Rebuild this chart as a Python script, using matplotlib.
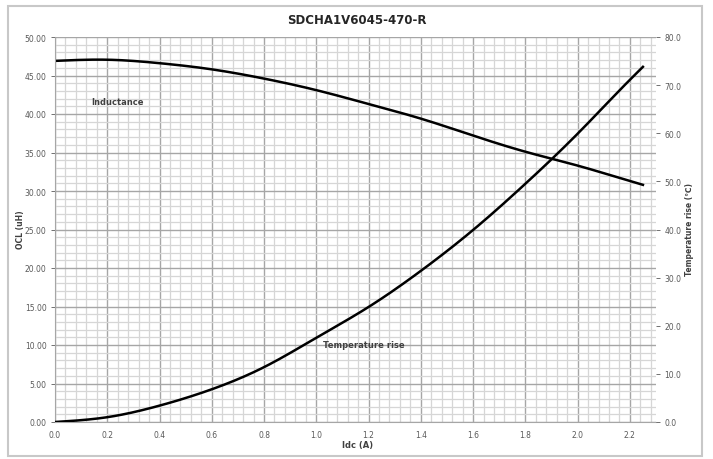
import numpy as np
import matplotlib
matplotlib.use("Agg")
import matplotlib.pyplot as plt
from matplotlib.ticker import MultipleLocator, FormatStrFormatter
from matplotlib.patches import Rectangle

idc = [0.0, 0.2, 0.4, 0.6, 0.8, 1.0, 1.2, 1.4, 1.6, 1.8, 2.0, 2.2, 2.25]
ocl = [46.9, 47.05, 46.6, 45.8, 44.6, 43.1, 41.3, 39.4, 37.2, 35.1, 33.3, 31.3, 30.8]
temp_rise = [0.0, 1.0, 3.4, 6.8, 11.4, 17.5, 23.9, 31.4, 39.9, 49.5, 59.9, 71.1, 73.8]

titel = "SDCHA1V6045-470-R"
grau = "#595959"


def spline(x, y, xn):
    # natuerlicher kubischer Spline, damit die Kurve glatt aussieht wie in Excel
    x = np.asarray(x, float)
    y = np.asarray(y, float)
    n = len(x)
    h = np.diff(x)
    A = np.zeros((n, n))
    b = np.zeros(n)
    A[0, 0] = A[-1, -1] = 1
    for i in range(1, n - 1):
        A[i, i - 1] = h[i - 1]
        A[i, i] = 2 * (h[i - 1] + h[i])
        A[i, i + 1] = h[i]
        b[i] = 3 * ((y[i + 1] - y[i]) / h[i] - (y[i] - y[i - 1]) / h[i - 1])
    c = np.linalg.solve(A, b)
    k = np.clip(np.searchsorted(x, xn) - 1, 0, n - 2)
    dx = xn - x[k]
    bb = (y[k + 1] - y[k]) / h[k] - h[k] * (2 * c[k] + c[k + 1]) / 3
    d = (c[k + 1] - c[k]) / (3 * h[k])
    return y[k] + bb * dx + c[k] * dx**2 + d * dx**3


plt.rcParams["font.family"] = ["DejaVu Sans"]

fig = plt.figure(figsize=(7.13, 4.6), dpi=100)
fig.add_artist(Rectangle((8 / 713, 3 / 460), 694 / 713, 450 / 460,
                         transform=fig.transFigure, fill=False,
                         edgecolor="#c8c8c8", linewidth=1.5))
ax = fig.add_axes([55 / 713, 37 / 460, 601 / 713, 385 / 460])
ax2 = ax.twinx()

x_fein = np.linspace(idc[0], idc[-1], 300)
ax.plot(x_fein, spline(idc, ocl, x_fein), color="black", linewidth=1.8)
ax2.plot(x_fein, spline(idc, temp_rise, x_fein), color="black", linewidth=1.8)

ax.set_xlim(0, 2.3)
ax.set_ylim(0, 50)
ax2.set_ylim(0, 80)

ax.xaxis.set_major_locator(MultipleLocator(0.2))
ax.xaxis.set_minor_locator(MultipleLocator(0.04))
ax.yaxis.set_major_locator(MultipleLocator(5))
ax.yaxis.set_minor_locator(MultipleLocator(1))
ax2.yaxis.set_major_locator(MultipleLocator(10))
ax.xaxis.set_major_formatter(FormatStrFormatter("%.1f"))
ax.yaxis.set_major_formatter(FormatStrFormatter("%.2f"))
ax2.yaxis.set_major_formatter(FormatStrFormatter("%.1f"))

ax.grid(which="major", color="#a6a6a6", linewidth=1.0)
ax.grid(which="minor", color="#d6d6d6", linewidth=0.9)
ax.set_axisbelow(True)

for a in (ax, ax2):
    for s in a.spines.values():
        s.set_visible(False)
    a.tick_params(which="major", labelsize=5.5, colors=grau, length=3,
                  width=0.6, pad=3)
    a.tick_params(which="minor", length=0)
ax.spines["bottom"].set_visible(True)
ax.spines["bottom"].set_color("#a6a6a6")
ax.spines["left"].set_visible(True)
ax.spines["left"].set_color("#a6a6a6")
ax.tick_params(axis="x", length=0, pad=6)

# Achsentitel direkt in Figurkoordinaten
fig.text(358 / 713, 1 - 446 / 460, "Idc (A)", fontsize=6, fontweight="bold",
         color="#404040", ha="center", va="center")
fig.text(21 / 713, 1 - 230 / 460, "OCL (uH)", fontsize=5.5, fontweight="bold",
         color="#404040", ha="center", va="center", rotation=90)
fig.text(690 / 713, 1 - 230 / 460, "Temperature rise (℃)", fontsize=5.5,
         fontweight="bold", color="#404040", ha="center", va="center",
         rotation=90)

ax.text(0.24, 41.6, "Inductance", fontsize=6, fontweight="bold",
        color="#404040", ha="center", va="center")
ax.text(1.18, 10.0, "Temperature rise", fontsize=6, fontweight="bold",
        color="#404040", ha="center", va="center")

fig.text(357 / 713, 1 - 20 / 460, titel, fontsize=8.5, fontweight="bold",
         color="#262626", ha="center", va="center")

fig.savefig("out.png", dpi=100)
